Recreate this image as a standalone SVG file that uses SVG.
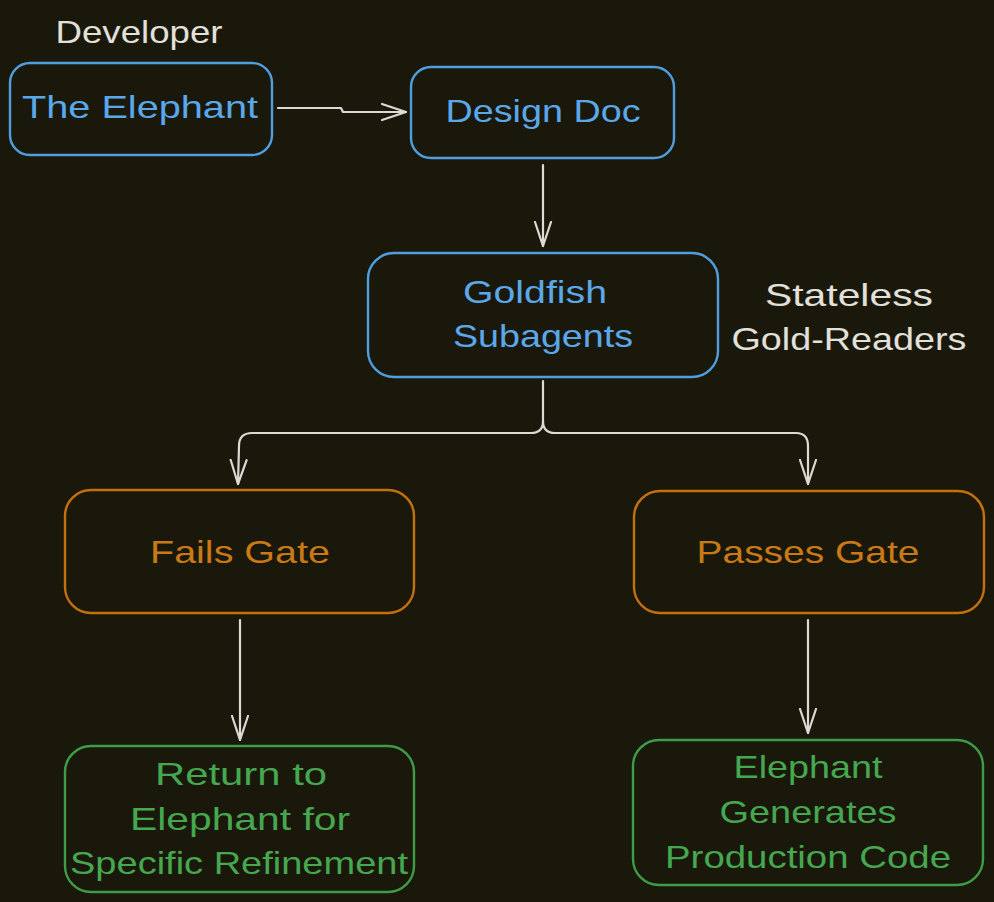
<svg xmlns="http://www.w3.org/2000/svg" width="994" height="902" viewBox="0 0 994 902">
<defs>
<style>
text{font-family:"Liberation Sans","DejaVu Sans",sans-serif;font-size:32px;text-anchor:middle}
.blue rect{fill:none;stroke:#4f9fe0;stroke-width:2.4}
.blue text{fill:#5aa8ea}
.orange rect{fill:none;stroke:#c4700f;stroke-width:2.4}
.orange text{fill:#c97a16}
.green rect{fill:none;stroke:#3e9c48;stroke-width:2.4}
.green text{fill:#45a850}
.label{fill:#e2e0da}
.conn path{fill:none;stroke:#dcdad4;stroke-width:2.2;stroke-linecap:round;stroke-linejoin:round}
</style>
<marker id="ah" markerWidth="27" markerHeight="20" refX="25" refY="10" orient="auto" markerUnits="userSpaceOnUse" viewBox="0 0 27 20">
<path d="M1,2 L25,10 L1,18" fill="none" stroke="#dcdad4" stroke-width="2.2" stroke-linecap="round" stroke-linejoin="round"/>
</marker>
</defs>
<rect width="994" height="902" fill="#1a180a"/>
<g id="developer"><text class="label" x="139" y="43" textLength="167" lengthAdjust="spacingAndGlyphs">Developer</text></g>
<g id="elephant" class="blue"><rect x="10" y="63" width="262" height="92" rx="20"/><text x="140" y="118" textLength="236" lengthAdjust="spacingAndGlyphs">The Elephant</text></g>
<g id="design-doc" class="blue"><rect x="411" y="67" width="263" height="91" rx="20"/><text x="543" y="122" textLength="195" lengthAdjust="spacingAndGlyphs">Design Doc</text></g>
<g id="goldfish" class="blue"><rect x="368" y="253" width="350" height="124" rx="26"/><text x="535" y="303" textLength="144" lengthAdjust="spacingAndGlyphs">Goldfish</text><text x="543" y="347" textLength="180" lengthAdjust="spacingAndGlyphs">Subagents</text></g>
<g id="stateless"><text class="label" x="849" y="306" textLength="168" lengthAdjust="spacingAndGlyphs">Stateless</text><text class="label" x="849" y="350" textLength="235" lengthAdjust="spacingAndGlyphs">Gold-Readers</text></g>
<g id="fails" class="orange"><rect x="65" y="490" width="349" height="123" rx="26"/><text x="240" y="563" textLength="180" lengthAdjust="spacingAndGlyphs">Fails Gate</text></g>
<g id="passes" class="orange"><rect x="634" y="491" width="350" height="122" rx="26"/><text x="808" y="563" textLength="223" lengthAdjust="spacingAndGlyphs">Passes Gate</text></g>
<g id="return" class="green"><rect x="65" y="746" width="349" height="146" rx="26"/><text x="241" y="785" textLength="172" lengthAdjust="spacingAndGlyphs">Return to</text><text x="240" y="830" textLength="220" lengthAdjust="spacingAndGlyphs">Elephant for</text><text x="239" y="874" textLength="338" lengthAdjust="spacingAndGlyphs">Specific Refinement</text></g>
<g id="generates" class="green"><rect x="633" y="740" width="350" height="145" rx="26"/><text x="808" y="778" textLength="149" lengthAdjust="spacingAndGlyphs">Elephant</text><text x="808" y="823" textLength="177" lengthAdjust="spacingAndGlyphs">Generates</text><text x="808" y="868" textLength="286" lengthAdjust="spacingAndGlyphs">Production Code</text></g>
<g id="connectors" class="conn">
<path d="M278,108 L341,108 L343,112 L406,112" marker-end="url(#ah)"/>
<path d="M543,165 L543,246" marker-end="url(#ah)"/>
<path d="M543,381 L543,421 Q543,433 531,433 L252,433 Q239,433 239,446 L238,484" marker-end="url(#ah)"/>
<path d="M543,421 Q543,433 555,433 L796,433 Q808,433 808,446 L808,484" marker-end="url(#ah)"/>
<path d="M240,620 L240,740" marker-end="url(#ah)"/>
<path d="M808,620 L808,733" marker-end="url(#ah)"/>
</g>
</svg>
